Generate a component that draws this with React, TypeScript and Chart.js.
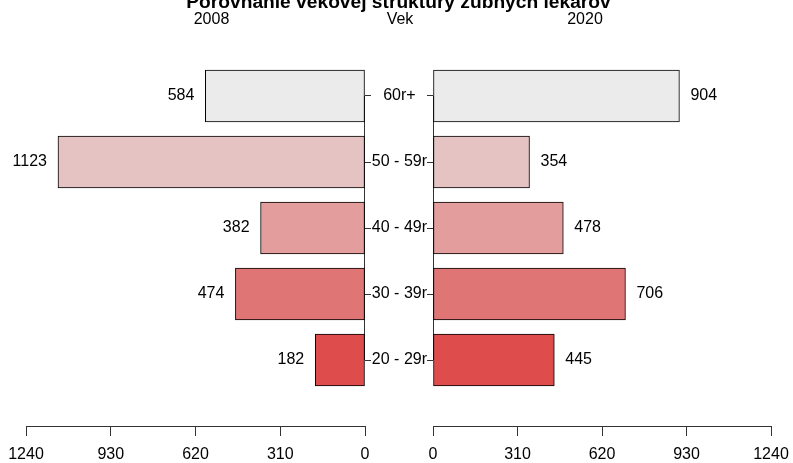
import React, { useEffect, useRef } from "react";
import { Chart, registerables } from "chart.js";

Chart.register(...registerables);

const CATEGORIES = ["60r+", "50 - 59r", "40 - 49r", "30 - 39r", "20 - 29r"];
const VALUES_2008 = [584, 1123, 382, 474, 182];
const VALUES_2020 = [904, 354, 478, 706, 445];
const BAR_COLORS = ["#EBEBEB", "#E6C3C3", "#E39D9D", "#E07575", "#DE4C4C"];
const X_TICKS = [0, 310, 620, 930, 1240];
const X_MAX = 1240;
const TITLE = "Porovnanie vekovej štruktúry zubných lekárov";
const LEFT_LABEL = "2008";
const MID_LABEL = "Vek";
const RIGHT_LABEL = "2020";

const FONT = "'Liberation Sans', Arial, Helvetica, sans-serif";
const W = 793;
const H = 463;
const AXIS_COLOR = "#333333";

function makeConfig(isLeft: boolean, values: number[]): any {
  const n = CATEGORIES.length;
  const extras = {
    id: isLeft ? "extrasLeft" : "extrasRight",
    beforeDatasetsDraw(chart: any) {
      const ctx = chart.ctx;
      const ys = chart.scales.y;
      const x = isLeft ? chart.chartArea.right - 0.5 : chart.chartArea.left + 0.5;
      const top = ys.getPixelForValue(n);
      const bottom = ys.getPixelForValue(1);
      ctx.save();
      ctx.strokeStyle = AXIS_COLOR;
      ctx.lineWidth = 1;
      ctx.beginPath();
      ctx.moveTo(x, top);
      ctx.lineTo(x, bottom);
      ctx.stroke();
      ctx.restore();
    },
    afterDatasetsDraw(chart: any) {
      const ctx = chart.ctx;
      const meta = chart.getDatasetMeta(0);
      ctx.save();
      ctx.font = `16px ${FONT}`;
      ctx.fillStyle = "#000";
      ctx.textBaseline = "middle";
      ctx.textAlign = isLeft ? "right" : "left";
      meta.data.forEach((bar: any, i: number) => {
        const tx = isLeft ? bar.x - 11 : bar.x + 11;
        ctx.fillText(String(values[i]), tx, bar.y);
      });
      ctx.restore();
    },
    afterDraw(chart: any) {
      if (isLeft) return;
      const ctx = chart.ctx;
      ctx.save();
      ctx.fillStyle = "#000";
      ctx.textAlign = "center";
      ctx.textBaseline = "alphabetic";
      ctx.font = `bold 19.2px ${FONT}`;
      ctx.fillText(TITLE, 398.5, 7.5);
      ctx.font = `16px ${FONT}`;
      ctx.fillText(LEFT_LABEL, 211.5, 24);
      ctx.fillText(MID_LABEL, 400, 24);
      ctx.fillText(RIGHT_LABEL, 585, 24);
      ctx.restore();
    },
  };

  return {
    type: "bar",
    data: {
      datasets: [
        {
          data: values.map((v, i) => ({ x: v, y: n - i })),
          backgroundColor: BAR_COLORS,
          borderColor: "#000000",
          borderWidth: 1,
          borderSkipped: false,
          barThickness: 52,
        },
      ],
    },
    options: {
      responsive: false,
      animation: false,
      indexAxis: "y",
      devicePixelRatio: 1,
      layout: {
        padding: isLeft
          ? { left: 26, right: W - 365 - 6, top: 30, bottom: 0 }
          : { left: 365, right: 22, top: 30, bottom: 0 },
      },
      plugins: {
        legend: { display: false },
        tooltip: { enabled: false },
        title: { display: false },
      },
      scales: {
        x: {
          type: "linear",
          reverse: isLeft,
          min: 0,
          max: X_MAX,
          afterBuildTicks: (s: any) => {
            s.ticks = X_TICKS.map((v) => ({ value: v }));
          },
          afterFit: (s: any) => {
            s.height = 37;
            s.paddingLeft = 0;
            s.paddingRight = 0;
          },
          ticks: {
            font: { family: FONT, size: 16 },
            color: "#000",
            padding: 9,
            maxRotation: 0,
            autoSkip: false,
            callback: (v: any) => String(v),
          },
          grid: {
            drawOnChartArea: false,
            drawTicks: true,
            tickLength: 10,
            color: AXIS_COLOR,
            lineWidth: 1,
          },
          border: { display: true, color: AXIS_COLOR, width: 1 },
        },
        y: {
          type: "linear",
          position: isLeft ? "right" : "left",
          min: 0,
          max: n + 1,
          offset: false,
          afterBuildTicks: (s: any) => {
            s.ticks = CATEGORIES.map((_, i) => ({ value: n - i }));
          },
          afterFit: (s: any) => {
            s.width = isLeft ? 6 : 68;
          },
          ticks: {
            display: !isLeft,
            callback: (v: any) => CATEGORIES[n - v] ?? "",
            font: { family: FONT, size: 16 },
            color: "#000",
            padding: 0,
            crossAlign: "center",
            autoSkip: false,
          },
          grid: {
            drawOnChartArea: false,
            drawTicks: true,
            tickLength: 6,
            color: AXIS_COLOR,
            offset: false,
          },
          border: { display: false },
        },
      },
    },
    plugins: [extras],
  };
}

export default function App() {
  const leftRef = useRef<HTMLCanvasElement | null>(null);
  const rightRef = useRef<HTMLCanvasElement | null>(null);

  useEffect(() => {
    const left = new Chart(leftRef.current as HTMLCanvasElement, makeConfig(true, VALUES_2008));
    const right = new Chart(rightRef.current as HTMLCanvasElement, makeConfig(false, VALUES_2020));
    return () => {
      left.destroy();
      right.destroy();
    };
  }, []);

  const canvasStyle: React.CSSProperties = {
    position: "absolute",
    left: 0,
    top: 0,
    width: W,
    height: H,
  };

  return (
    <div
      style={{
        position: "absolute",
        left: 0,
        top: 0,
        width: W,
        height: H,
        background: "#fff",
        overflow: "hidden",
      }}
    >
      <canvas ref={leftRef} width={W} height={H} style={canvasStyle} />
      <canvas ref={rightRef} width={W} height={H} style={canvasStyle} />
    </div>
  );
}
